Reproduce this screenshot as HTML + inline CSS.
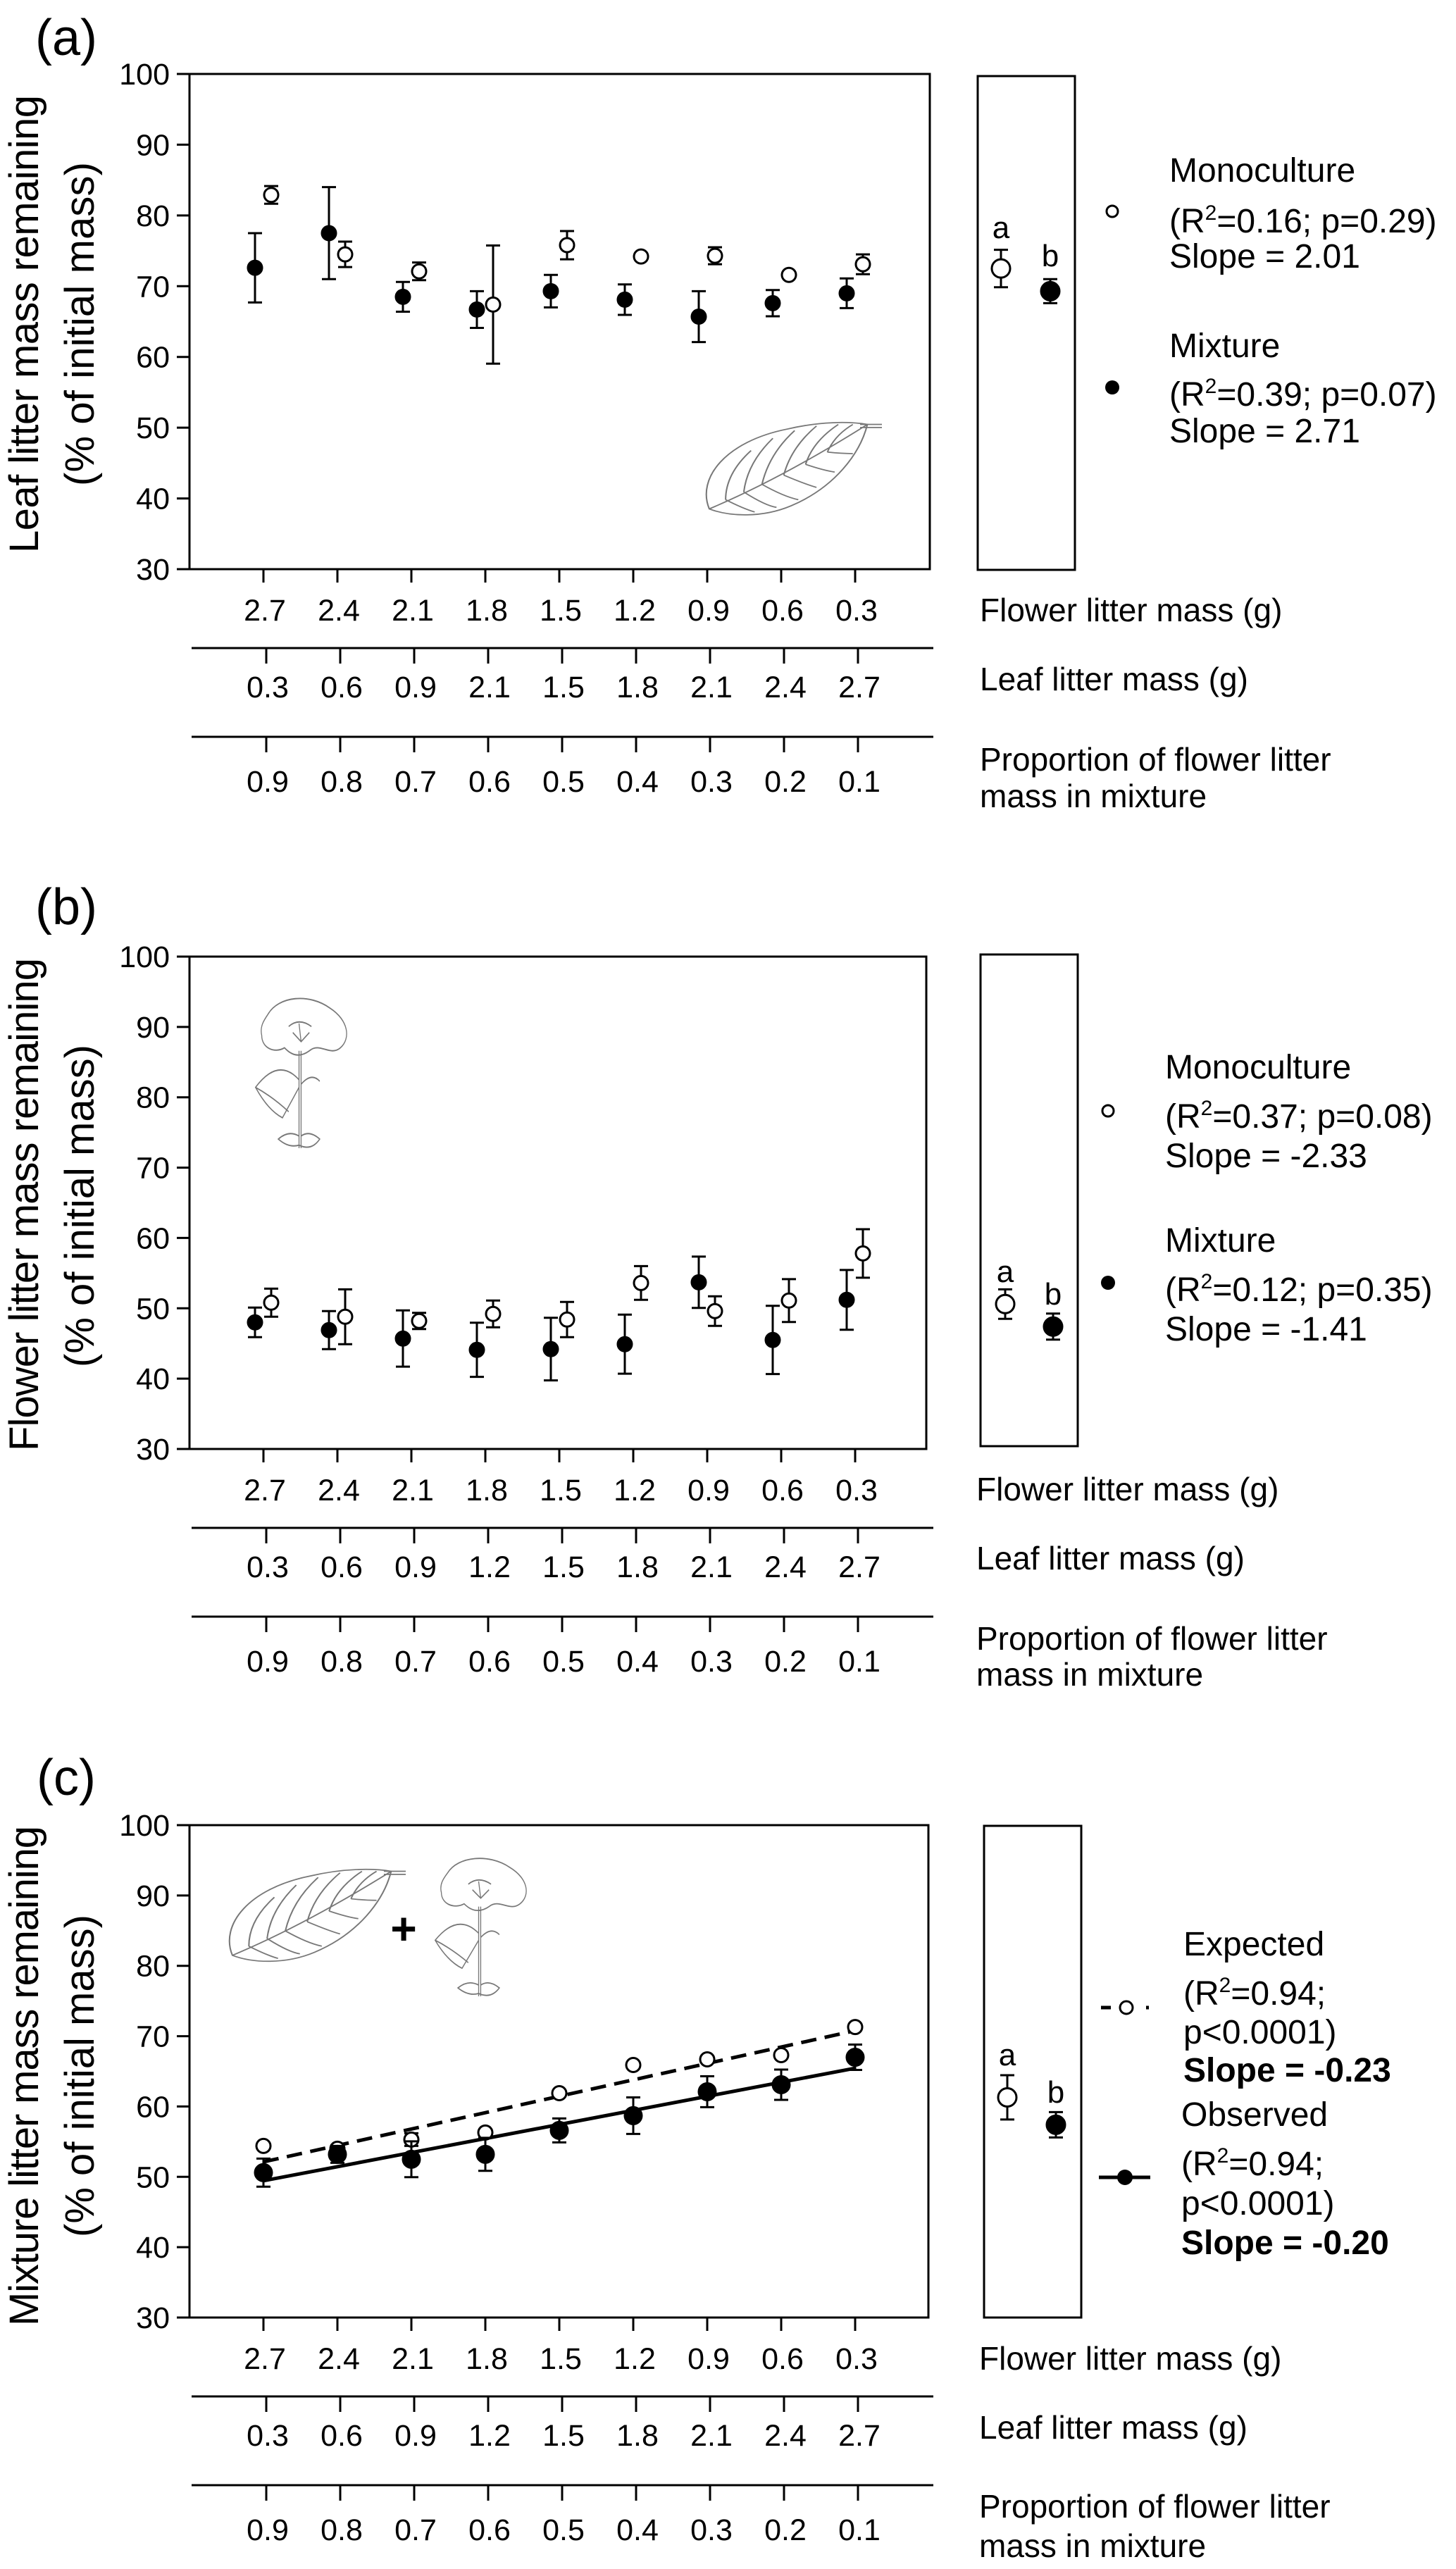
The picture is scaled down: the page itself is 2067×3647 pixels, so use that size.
<!DOCTYPE html>
<html><head><meta charset="utf-8"><title>Litter mass remaining</title>
<style>
html,body{margin:0;padding:0;background:#fff;}
svg{display:block;font-family:"Liberation Sans",Arial,sans-serif;}
.tk{font-size:43px;}
.lab{font-size:46px;}
.lg{font-size:48px;}
</style></head>
<body>
<svg id="fig" xmlns="http://www.w3.org/2000/svg" width="2067" height="3647" viewBox="0 0 2067 3647">
<rect x="0" y="0" width="2067" height="3647" fill="#fff"/>

<!-- Panel A static -->
<g>
  <text x="50" y="78" font-size="72">(a)</text>
  <text font-size="58" text-anchor="middle" textLength="650" lengthAdjust="spacing" transform="translate(54,460) rotate(-90)">Leaf litter mass remaining</text>
  <text font-size="58" text-anchor="middle" textLength="460" lengthAdjust="spacing" transform="translate(133,460) rotate(-90)">(% of initial mass)</text>
  <text class="lab" x="1391" y="882">Flower litter mass (g)</text>
  <text class="lab" x="1391" y="980">Leaf litter mass (g)</text>
  <text class="lab" x="1391" y="1094">Proportion of flower litter</text>
  <text class="lab" x="1391" y="1146">mass in mixture</text>
  <text class="lg" x="1660" y="258">Monoculture</text>
  <text class="lg" x="1660" y="330">(R<tspan font-size="30" dy="-18">2</tspan><tspan dy="18">=0.16; p=0.29)</tspan></text>
  <text class="lg" x="1660" y="380">Slope = 2.01</text>
  <text class="lg" x="1660" y="507">Mixture</text>
  <text class="lg" x="1660" y="576">(R<tspan font-size="30" dy="-18">2</tspan><tspan dy="18">=0.39; p=0.07)</tspan></text>
  <text class="lg" x="1660" y="628">Slope = 2.71</text>
  <circle cx="1579" cy="300" r="8" fill="#fff" stroke="#000" stroke-width="3"/>
  <circle cx="1579" cy="550" r="10" fill="#000"/>
  <text x="1421" y="338" font-size="44" text-anchor="middle">a</text>
  <text x="1491" y="378" font-size="44" text-anchor="middle">b</text>
  <g transform="translate(994,596) scale(2.58,2.18)" fill="none" stroke="#777" stroke-width="0.8">
    <path d="M5,58 C-2,38 14,14 48,6 C66,1 82,1 92,3 C88,22 74,44 50,56 C34,64 16,63 5,58 Z"/>
    <path d="M88,3 L100,3 M88,5 L100,5"/>
    <path d="M5,58 Q45,38 92,3"/>
    <path d="M14,52 Q14,35 28,20 M24,47 Q26,28 40,12 M34,42 Q38,22 52,7 M46,36 Q50,18 64,4 M58,29 Q62,14 76,3 M70,21 Q74,10 84,3"/>
    <path d="M14,52 Q24,58 30,60 M24,47 Q36,56 42,57 M34,42 Q46,50 54,52 M46,36 Q58,42 64,44 M58,29 Q68,33 74,34 M70,21 Q78,22 84,22"/>
  </g>
</g>

<!-- Panel B static -->
<g>
  <text x="50" y="1312" font-size="72">(b)</text>
  <text font-size="58" text-anchor="middle" textLength="700" lengthAdjust="spacing" transform="translate(54,1710) rotate(-90)">Flower litter mass remaining</text>
  <text font-size="58" text-anchor="middle" textLength="458" lengthAdjust="spacing" transform="translate(133,1712) rotate(-90)">(% of initial mass)</text>
  <text class="lab" x="1386" y="2130">Flower litter mass (g)</text>
  <text class="lab" x="1386" y="2228">Leaf litter mass (g)</text>
  <text class="lab" x="1386" y="2342">Proportion of flower litter</text>
  <text class="lab" x="1386" y="2393">mass in mixture</text>
  <text class="lg" x="1654" y="1531">Monoculture</text>
  <text class="lg" x="1654" y="1601">(R<tspan font-size="30" dy="-18">2</tspan><tspan dy="18">=0.37; p=0.08)</tspan></text>
  <text class="lg" x="1654" y="1657">Slope = -2.33</text>
  <text class="lg" x="1654" y="1777">Mixture</text>
  <text class="lg" x="1654" y="1847">(R<tspan font-size="30" dy="-18">2</tspan><tspan dy="18">=0.12; p=0.35)</tspan></text>
  <text class="lg" x="1654" y="1903">Slope = -1.41</text>
  <circle cx="1573" cy="1577" r="8" fill="#fff" stroke="#000" stroke-width="3"/>
  <circle cx="1573" cy="1821" r="10" fill="#000"/>
  <text x="1427" y="1820" font-size="44" text-anchor="middle">a</text>
  <text x="1495" y="1852" font-size="44" text-anchor="middle">b</text>
  <g transform="translate(351,1414) scale(1.47,2.16)" fill="none" stroke="#777" stroke-width="0.9">
    <path d="M20,12 C30,0 60,-2 80,8 C98,16 100,28 90,34 C80,40 70,30 60,36 C52,40 44,40 36,34 C26,38 14,34 14,26 C12,20 16,16 20,12 Z"/>
    <path d="M40,20 Q50,14 62,20 M50,18 L52,30 M44,24 L52,30 L60,24"/>
    <path d="M52,36 L52,100 M50,36 L50,100"/>
    <path d="M50,55 Q30,40 8,60 Q20,75 34,80 Q42,70 50,60"/>
    <path d="M8,60 Q24,66 40,76"/>
    <path d="M52,58 Q62,50 70,56"/>
    <path d="M50,92 Q40,88 30,94 Q40,100 50,98 Q62,102 70,94 Q60,88 52,92"/>
  </g>
</g>

<!-- Panel C static -->
<g>
  <text x="52" y="2548" font-size="72">(c)</text>
  <text font-size="58" text-anchor="middle" textLength="710" lengthAdjust="spacing" transform="translate(54,2947) rotate(-90)">Mixture litter mass remaining</text>
  <text font-size="58" text-anchor="middle" textLength="458" lengthAdjust="spacing" transform="translate(133,2947) rotate(-90)">(% of initial mass)</text>
  <text class="lab" x="1390" y="3364">Flower litter mass (g)</text>
  <text class="lab" x="1390" y="3462">Leaf litter mass (g)</text>
  <text class="lab" x="1390" y="3574">Proportion of flower litter</text>
  <text class="lab" x="1390" y="3630">mass in mixture</text>
  <text class="lg" x="1680" y="2776">Expected</text>
  <text class="lg" x="1680" y="2846">(R<tspan font-size="30" dy="-18">2</tspan><tspan dy="18">=0.94;</tspan></text>
  <text class="lg" x="1680" y="2901">p&lt;0.0001)</text>
  <text class="lg" x="1680" y="2955" font-weight="bold">Slope = -0.23</text>
  <text class="lg" x="1677" y="3018">Observed</text>
  <text class="lg" x="1677" y="3088">(R<tspan font-size="30" dy="-18">2</tspan><tspan dy="18">=0.94;</tspan></text>
  <text class="lg" x="1677" y="3144">p&lt;0.0001)</text>
  <text class="lg" x="1677" y="3200" font-weight="bold">Slope = -0.20</text>
  <line x1="1563" y1="2850" x2="1636" y2="2850" stroke="#000" stroke-width="5" stroke-dasharray="14,50,4"/>
  <circle cx="1599" cy="2850" r="9" fill="#fff" stroke="#000" stroke-width="3"/>
  <line x1="1560" y1="3091" x2="1633" y2="3091" stroke="#000" stroke-width="5"/>
  <circle cx="1597" cy="3091" r="11" fill="#000"/>
  <text x="1430" y="2932" font-size="44" text-anchor="middle">a</text>
  <text x="1499" y="2985" font-size="44" text-anchor="middle">b</text>
  <g transform="translate(317,2650) scale(2.59,2.17)" fill="none" stroke="#777" stroke-width="0.8">
    <path d="M5,58 C-2,38 14,14 48,6 C66,1 82,1 92,3 C88,22 74,44 50,56 C34,64 16,63 5,58 Z"/>
    <path d="M88,3 L100,3 M88,5 L100,5"/>
    <path d="M5,58 Q45,38 92,3"/>
    <path d="M14,52 Q14,35 28,20 M24,47 Q26,28 40,12 M34,42 Q38,22 52,7 M46,36 Q50,18 64,4 M58,29 Q62,14 76,3 M70,21 Q74,10 84,3"/>
    <path d="M14,52 Q24,58 30,60 M24,47 Q36,56 42,57 M34,42 Q46,50 54,52 M46,36 Q58,42 64,44 M58,29 Q68,33 74,34 M70,21 Q78,22 84,22"/>
  </g>
  <text x="573" y="2760" font-size="64" font-weight="bold" text-anchor="middle">+</text>
  <g transform="translate(606,2635) scale(1.47,1.99)" fill="none" stroke="#777" stroke-width="0.9">
    <path d="M20,12 C30,0 60,-2 80,8 C98,16 100,28 90,34 C80,40 70,30 60,36 C52,40 44,40 36,34 C26,38 14,34 14,26 C12,20 16,16 20,12 Z"/>
    <path d="M40,20 Q50,14 62,20 M50,18 L52,30 M44,24 L52,30 L60,24"/>
    <path d="M52,36 L52,100 M50,36 L50,100"/>
    <path d="M50,55 Q30,40 8,60 Q20,75 34,80 Q42,70 50,60"/>
    <path d="M8,60 Q24,66 40,76"/>
    <path d="M52,58 Q62,50 70,56"/>
    <path d="M50,92 Q40,88 30,94 Q40,100 50,98 Q62,102 70,94 Q60,88 52,92"/>
  </g>
</g>
<g id="dyn"></g>
</svg>

<script>
// ---- Data ----
const flowerTicks = ["2.7","2.4","2.1","1.8","1.5","1.2","0.9","0.6","0.3"];
const leafTicksA = ["0.3","0.6","0.9","2.1","1.5","1.8","2.1","2.4","2.7"];
const leafTicks = ["0.3","0.6","0.9","1.2","1.5","1.8","2.1","2.4","2.7"];
const propTicks = ["0.9","0.8","0.7","0.6","0.5","0.4","0.3","0.2","0.1"];
const yTicks = [30,40,50,60,70,80,90,100];

const aMonoMean = [82.9,74.5,72.1,67.4,75.8,74.2,74.3,71.6,73.1];
const aMonoErr  = [1.25,1.8,1.25,8.35,2.0,0,1.2,0,1.4];
const aMixMean  = [72.6,77.5,68.5,66.7,69.3,68.1,65.7,67.6,69.0];
const aMixErr   = [4.9,6.5,2.1,2.6,2.3,2.15,3.6,1.85,2.1];
const aSideMean = [72.5,69.3];
const aSideErr  = [2.65,1.7];

const bMonoMean = [50.8,48.8,48.2,49.2,48.4,53.6,49.6,51.1,57.8];
const bMonoErr  = [2.0,3.9,1.15,1.9,2.5,2.4,2.1,3.05,3.45];
const bMixMean  = [48.0,46.9,45.7,44.1,44.2,44.9,53.7,45.5,51.2];
const bMixErr   = [2.1,2.7,4.0,3.85,4.45,4.2,3.65,4.85,4.25];
const bSideMean = [50.6,47.4];
const bSideErr  = [2.1,1.85];

const cExpMean  = [54.4,54.0,55.3,56.3,61.9,65.9,66.7,67.3,71.3];
const cExpErr   = [0,0.5,0.9,0,0,0,0,0,0];
const cObsMean  = [50.6,53.2,52.5,53.2,56.6,58.7,62.1,63.1,67.0];
const cObsErr   = [2.0,1.2,2.55,2.35,1.7,2.6,2.2,2.15,1.8];
const cSideMean = [61.3,57.4];
const cSideErr  = [3.15,1.8];

const NS = "http://www.w3.org/2000/svg";
const root = document.getElementById("dyn");
function mk(tag, attrs, parent){
  const e = document.createElementNS(NS, tag);
  for (const k in attrs) e.setAttribute(k, attrs[k]);
  parent.appendChild(e);
  return e;
}
function linFit(v){
  const n=v.length; let mx=(n-1)/2, my=v.reduce((s,a)=>s+a,0)/n, sxy=0, sxx=0;
  v.forEach((y,i)=>{sxy+=(i-mx)*(y-my); sxx+=(i-mx)*(i-mx);});
  const b=sxy/sxx; return [my-b*mx, b];
}

function panel(p){
  const g = mk("g", {}, root);
  
  
  const yv = v => p.bottom - (v-30)/70*(p.bottom-p.top);
  const xv = i => 374 + i*105;
  const box = mk("rect", {x:269, y:p.top, width:p.right-269, height:p.bottom-p.top, fill:"none", stroke:"#000", "stroke-width":3}, g);
  
  
  yTicks.forEach(t=>{
    const tl = mk("line", {x1:251, x2:269, y1:yv(t), y2:yv(t), stroke:"#000", "stroke-width":3}, g);
    
    
    const tx = mk("text", {x:241, y:yv(t)+15, "text-anchor":"end", class:"tk"}, g);
    tx.textContent = String(t);
    
    
  });
  const rows = [
    {ax:null, tickTop:p.bottom, tickBot:p.bottom+19, labY:p.bottom+73, labels:flowerTicks, name:'flower-mass'},
    {ax:p.bottom+112, tickTop:p.bottom+112, tickBot:p.bottom+134, labY:p.bottom+182, labels:p.leaf, name:'leaf-mass'},
    {ax:p.bottom+238, tickTop:p.bottom+238, tickBot:p.bottom+260, labY:p.bottom+316, labels:propTicks, name:'proportion'}
  ];
  rows.forEach((r,ri)=>{
    if (r.ax!==null){
      const al = mk("line", {x1:272, x2:1325, y1:r.ax, y2:r.ax, stroke:"#000", "stroke-width":3}, g);
      
      
    }
    r.labels.forEach((lb,i)=>{
      const off = ri===0 ? 0 : 4;
      const tl = mk("line", {x1:xv(i)+off, x2:xv(i)+off, y1:r.tickTop, y2:r.tickBot, stroke:"#000", "stroke-width":3}, g);
      
      
      const tx = mk("text", {x:xv(i)+off+2, y:r.labY, "text-anchor":"middle", class:"tk"}, g);
      tx.textContent = lb;
      
      
    });
  });
  const sb = mk("rect", {x:p.side[0], y:p.side[2], width:p.side[1]-p.side[0], height:p.side[3]-p.side[2], fill:"none", stroke:"#000", "stroke-width":3}, g);
  
  

  function errBar(cx, m, e, name){
    if (e<=0) return;
    const l = mk("path", {d:`M${cx},${yv(m+e)}V${yv(m-e)}M${cx-10},${yv(m+e)}h20M${cx-10},${yv(m-e)}h20`, stroke:"#000", "stroke-width":3, fill:"none"}, g);
    
    
  }
  function marker(cx, m, r, filled, name){
    const c = mk("circle", {cx:cx, cy:yv(m), r:r, fill:filled?"#000":"#fff", stroke:"#000", "stroke-width":3}, g);
    
    
  }
  if (p.lines){
    p.lines.forEach(L=>{
      const [a,b] = linFit(L.data);
      const ln = mk("line", {x1:xv(0), y1:yv(a), x2:xv(8), y2:yv(a+8*b), stroke:"#000", "stroke-width":5, "stroke-dasharray":L.dash}, g);
      
      
    });
  }
  p.series.forEach(s=>{
    s.mean.forEach((m,i)=>{
      const cx = xv(i) + s.dx;
      errBar(cx, m, s.err[i], s.name);
      marker(cx, m, s.r, s.filled, s.name + '-point');
    });
  });
  errBar(p.sx[0], p.sideMean[0], p.sideErr[0], 'side-open');
  marker(p.sx[0], p.sideMean[0], 13, false, 'side-mean-open');
  errBar(p.sx[1], p.sideMean[1], p.sideErr[1], 'side-filled');
  marker(p.sx[1], p.sideMean[1], 13, true, 'side-mean-filled');
}

panel({id:'a', top:105, bottom:808, right:1320, side:[1388,1526,108,809], leaf:leafTicksA,
  series:[{name:'mixture', mean:aMixMean, err:aMixErr, dx:-12, r:10, filled:true},
          {name:'monoculture', mean:aMonoMean, err:aMonoErr, dx:11, r:10, filled:false}],
  sx:[1421,1491], sideMean:aSideMean, sideErr:aSideErr});
panel({id:'b', top:1358, bottom:2057, right:1315, side:[1392,1530,1355,2053], leaf:leafTicks,
  series:[{name:'mixture', mean:bMixMean, err:bMixErr, dx:-12, r:10, filled:true},
          {name:'monoculture', mean:bMonoMean, err:bMonoErr, dx:11, r:10, filled:false}],
  sx:[1427,1495], sideMean:bSideMean, sideErr:bSideErr});
panel({id:'c', top:2591, bottom:3290, right:1318, side:[1397,1535,2592,3290], leaf:leafTicks,
  lines:[{name:'expected', data:cExpMean, dash:"22,12"},{name:'observed', data:cObsMean, dash:"none"}],
  series:[{name:'expected', mean:cExpMean, err:cExpErr, dx:0, r:10, filled:false},
          {name:'observed', mean:cObsMean, err:cObsErr, dx:0, r:12, filled:true}],
  sx:[1430,1499], sideMean:cSideMean, sideErr:cSideErr});
</script>
</body></html>
